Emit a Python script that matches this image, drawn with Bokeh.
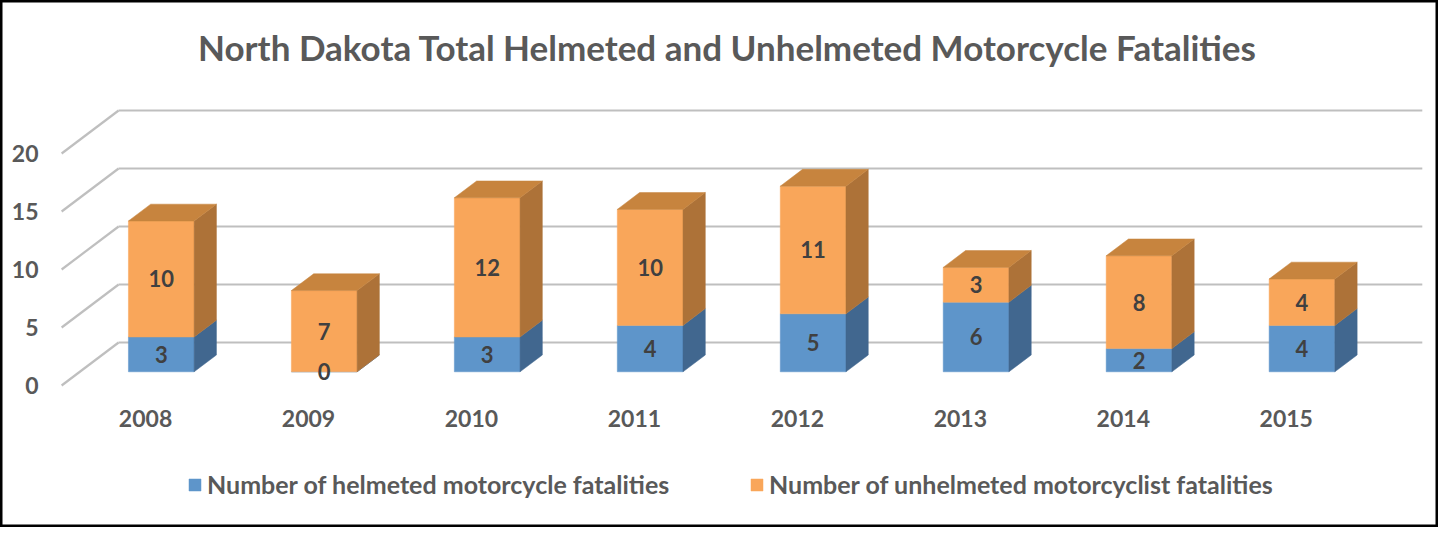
import numpy as np
from bokeh.plotting import figure
from bokeh.models import Range1d, Legend, LegendItem
from bokeh.core.properties import value
from bokeh.embed import file_html
from bokeh.resources import INLINE

# ---------------- data ----------------
years = ["2008", "2009", "2010", "2011", "2012", "2013", "2014", "2015"]
helmeted = [3, 0, 3, 4, 5, 6, 2, 4]
unhelmeted = [10, 7, 12, 10, 11, 3, 8, 4]
y_ticks = [0, 5, 10, 15, 20]
series_names = ["Number of helmeted motorcycle fatalities",
                "Number of unhelmeted motorcyclist fatalities"]
title_text = "North Dakota Total Helmeted and Unhelmeted Motorcycle Fatalities"

# ---------------- layout / projection constants ----------------
W, H = 1438, 527
PAGE = 8
X0, XS = 150.6, 162.96   # page x of category 0 (front plane), px per category
Y0, YS = 393.0, 11.6     # page y of value 0 (front plane), px per unit


def px2x(X):
    return (X - X0) / XS


def py2y(Y):
    return (Y0 - Y) / YS


DX, DY = 57.0 / XS, 43.0 / YS      # full floor depth in data units
D0, D1 = 0.319, 0.71               # bar depth position (fraction of floor depth)
HALF = 0.2016                      # half bar width (category units)

FONT_NAME = "Lato"
FONT = value(FONT_NAME)
GRID = "#BFBFBF"
TXT = "#595959"
LBL = "#404040"
BLUE_F, BLUE_S = "#5E95CA", "#41678F"
OR_F, OR_S, OR_T = "#F9A65A", "#AD7238", "#C7843E"

p = figure(width=W, height=H, output_backend="svg", toolbar_location=None,
           x_range=Range1d(px2x(PAGE), px2x(PAGE + W)),
           y_range=Range1d(py2y(PAGE + H), py2y(PAGE)),
           x_axis_type=None, y_axis_type=None, min_border=0)
p.grid.visible = False
p.background_fill_color = "white"
p.border_fill_color = "white"
p.outline_line_color = "black"
p.outline_line_width = 4

n = len(years)
cats = np.arange(n, dtype=float)
xl, xr = -0.5, n - 0.5

# ---------- walls / gridlines ----------
gx, gy = [], []
for v in y_ticks:
    gx.append([xl + DX, xr + DX]); gy.append([v + DY, v + DY])
    gx.append([xl, xl + DX]); gy.append([v, v + DY])
p.multi_line(gx, gy, line_color=GRID, line_width=2.2)

# ---------- bars ----------
fx, fy = D0 * DX, D0 * DY
bdx, bdy = (D1 - D0) * DX, (D1 - D0) * DY


def faces(bottoms, tops):
    front_x, front_y, side_x, side_y = [], [], [], []
    for c, b, t in zip(cats, bottoms, tops):
        x0, x1 = c - HALF + fx, c + HALF + fx
        y0, y1 = b + fy, t + fy
        front_x.append([x0, x1, x1, x0]); front_y.append([y0, y0, y1, y1])
        side_x.append([x1, x1 + bdx, x1 + bdx, x1])
        side_y.append([y0, y0 + bdy, y1 + bdy, y1])
    return front_x, front_y, side_x, side_y


h = np.array(helmeted, dtype=float)
u = np.array(unhelmeted, dtype=float)
tot = h + u

bfx, bfy, bsx, bsy = faces(np.zeros(n), h)
ofx, ofy, osx, osy = faces(h, tot)

blue_front = p.patches(bfx, bfy, fill_color=BLUE_F, line_color=BLUE_F, line_width=0.5)
p.patches(bsx, bsy, fill_color=BLUE_S, line_color=BLUE_S, line_width=0.5)
orange_front = p.patches(ofx, ofy, fill_color=OR_F, line_color=OR_F, line_width=0.5)
p.patches(osx, osy, fill_color=OR_S, line_color=OR_S, line_width=0.5)

tx, ty = [], []
for c, t in zip(cats, tot):
    x0, x1 = c - HALF + fx, c + HALF + fx
    y1 = t + fy
    tx.append([x0, x1, x1 + bdx, x0 + bdx]); ty.append([y1, y1, y1 + bdy, y1 + bdy])
p.patches(tx, ty, fill_color=OR_T, line_color=OR_T, line_width=0.5)

# ---------- data labels ----------
p.text(x=list(cats + fx), y=list(h / 2 + fy), text=[str(v) for v in helmeted],
       text_font=FONT, text_font_style="bold", text_font_size="22px",
       text_color=LBL, text_align="center", text_baseline="middle")
p.text(x=list(cats + fx), y=list(h + u / 2 + fy), text=[str(v) for v in unhelmeted],
       text_font=FONT, text_font_style="bold", text_font_size="22px",
       text_color=LBL, text_align="center", text_baseline="middle")

# ---------- axis labels ----------
p.text(x=[px2x(46)] * len(y_ticks), y=y_ticks, text=[str(v) for v in y_ticks],
       text_font=FONT, text_font_style="bold", text_font_size="23px",
       text_color=TXT, text_align="right", text_baseline="middle")
p.text(x=list(cats + 0.015), y=[py2y(426)] * n, text=years,
       text_font=FONT, text_font_style="bold", text_font_size="23px",
       text_color=TXT, text_align="center", text_baseline="middle")

# ---------- title ----------
p.text(x=[px2x(735)], y=[py2y(54)], text=[title_text],
       text_font=FONT, text_font_style="bold", text_font_size="35px",
       text_color=TXT, text_align="center", text_baseline="middle")

# ---------- legends ----------
for rend, name, lx in [(blue_front, series_names[0], 187), (orange_front, series_names[1], 749)]:
    lg = Legend(items=[LegendItem(label=name, renderers=[rend])],
                location=(lx, 28), orientation="horizontal",
                padding=0, margin=0, border_line_color=None,
                background_fill_alpha=0, glyph_width=15, glyph_height=15,
                label_standoff=5, label_text_font=FONT_NAME,
                label_text_font_style="bold", label_text_font_size="25px",
                label_text_color=TXT)
    p.add_layout(lg)

open("out.html", "w").write(file_html(p, INLINE))
